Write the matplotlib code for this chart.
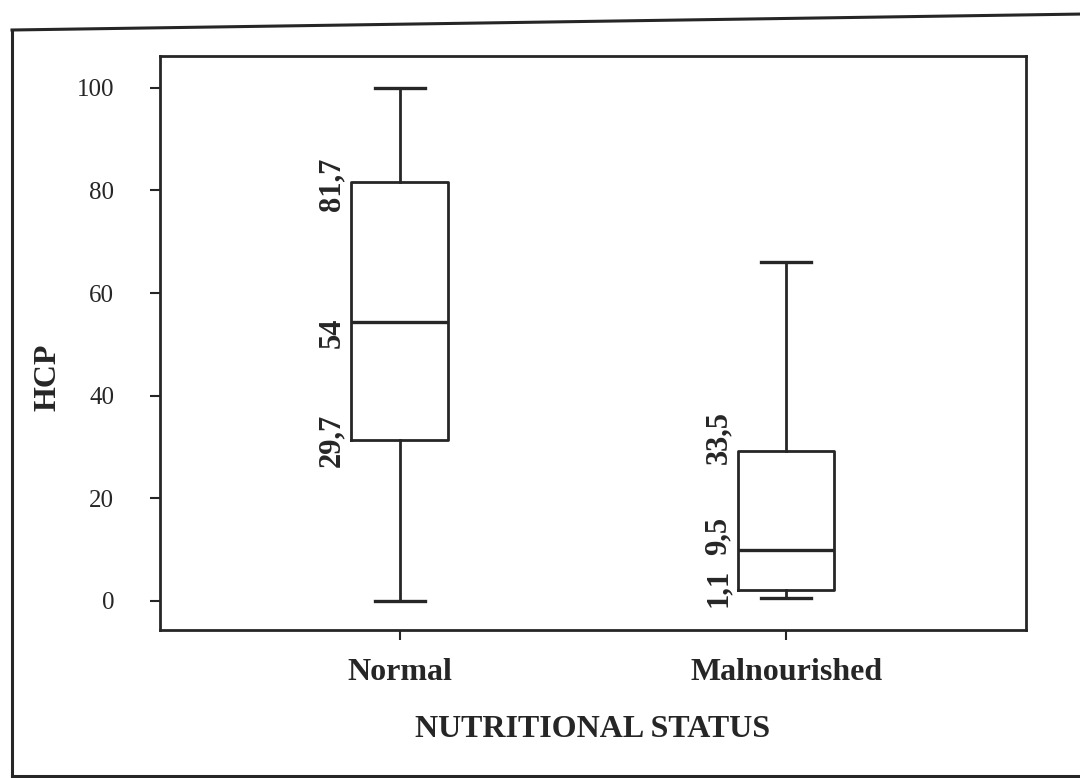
import matplotlib.pyplot as plt
from matplotlib.lines import Line2D

#-----Data-----#
groups = ["Normal", "Malnourished"]
whisker_low = [0.0, 0.5]
q1 = [31.3, 2.2]
median = [54.3, 10.0]
q3 = [81.7, 29.2]
whisker_high = [100.0, 66.0]
# printed values next to each box (q1, median, q3)
q1_text = ["29,7", "1,1"]
median_text = ["54", "9,5"]
q3_text = ["81,7", "33,5"]

plt.rcParams['font.family'] = ['Liberation Serif', 'DejaVu Serif']
ink = '#262626'

#-----Plot-----#
fig = plt.figure(figsize=(10.8, 7.78), dpi=100)
ax = fig.add_axes([0.148, 0.19, 0.802, 0.738])

stats = []
for i, name in enumerate(groups):
    stats.append({'label': name, 'whislo': whisker_low[i], 'q1': q1[i],
                  'med': median[i], 'q3': q3[i], 'whishi': whisker_high[i],
                  'fliers': []})

line_style = dict(color=ink, linewidth=2.0)
ax.bxp(stats, positions=[1, 2], widths=0.25, showfliers=False,
       boxprops=line_style, medianprops=dict(color=ink, linewidth=2.4),
       whiskerprops=line_style, capprops=dict(color=ink, linewidth=2.4),
       capwidths=0.13)

# rotated value labels left of each box, nudged a bit like the original
nudge = [(-3, -10, 0), (14, 14, 2)]   # pixels up for (q3, median, q1)
for i in range(len(groups)):
    x = i + 1 - 0.175
    vals = [(q3[i], q3_text[i]), (median[i], median_text[i]), (q1[i], q1_text[i])]
    for (val, txt), dy in zip(vals, nudge[i]):
        ax.annotate(txt, (x, val), xytext=(0, dy), textcoords='offset pixels',
                    rotation=90, ha='center', va='center',
                    fontsize=22, fontweight='bold', color=ink)

ax.set_xlim(0.379, 2.621)
ax.set_ylim(-5.7, 106.2)
ax.set_yticks([0, 20, 40, 60, 80, 100])
ax.tick_params(axis='y', labelsize=18, length=7, width=1.5, color=ink, pad=26, labelcolor=ink)
ax.tick_params(axis='x', labelsize=23, length=7, width=1.5, color=ink, pad=13, labelcolor=ink)
for lbl in ax.get_xticklabels():
    lbl.set_fontweight('bold')
for s in ax.spines.values():
    s.set_linewidth(2.0)
    s.set_color(ink)

ax.set_xlabel("NUTRITIONAL STATUS", fontsize=23, fontweight='bold', color=ink, labelpad=20)
ax.set_ylabel("HCP", fontsize=23, fontweight='bold', color=ink, labelpad=10, y=0.44)

# outer frame of the scanned figure (right side runs off the page)
W, H = 1080.0, 778.0
frame = [((12, 30), (1085, 14)), ((12, 30), (12, 776)), ((12, 776), (1085, 776))]
for (x0, y0), (x1, y1) in frame:
    fig.add_artist(Line2D([x0 / W, x1 / W], [1 - y0 / H, 1 - y1 / H],
                          transform=fig.transFigure, color=ink, linewidth=2.2))

fig.savefig("out.png", dpi=100)
